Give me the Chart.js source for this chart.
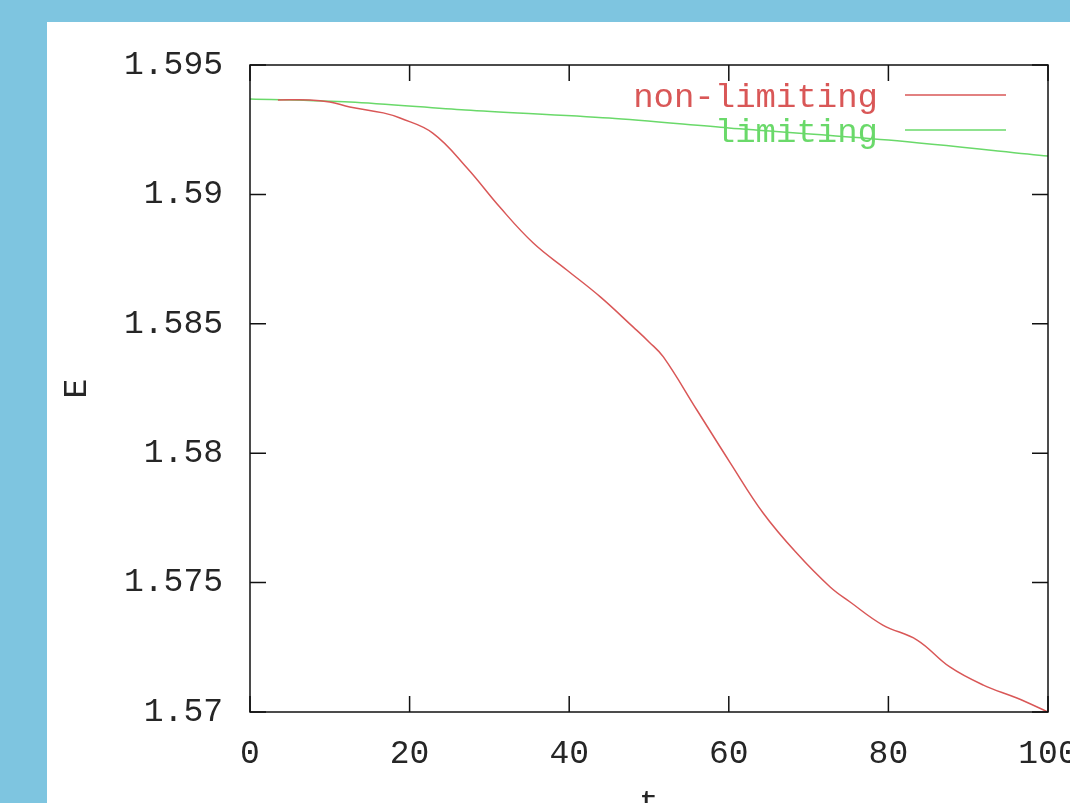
<!DOCTYPE html>
<html><head><meta charset="utf-8">
<script src="https://cdn.jsdelivr.net/npm/chart.js@4"></script>
<style>
html,body{margin:0;padding:0;background:#7ec5e0;width:1070px;height:803px;overflow:hidden;}
#panel{position:absolute;left:47px;top:22px;width:1023px;height:781px;background:#fff;overflow:hidden;}
canvas{position:absolute;left:0;top:0;}
</style></head><body>
<div id="panel"><canvas id="c" width="1023" height="802"></canvas></div>
<script>
// ---- data ----
const seriesNames = ['non-limiting', 'limiting'];
const tNonLimiting = [3.5, 7.5, 10, 12.5, 16.7, 18.8, 22.9, 27.2, 31.3, 35.5, 39.7, 43.9, 48, 50, 51.8, 56, 60.2, 64.3, 68.5, 72.7, 75.2, 79.3, 83.6, 87.7, 91.9, 96.1, 100];
const eNonLimiting = [1.59365, 1.59365, 1.59357, 1.59338, 1.59315, 1.59295, 1.59237, 1.59102, 1.58951, 1.58812, 1.58708, 1.58604, 1.58488, 1.5843, 1.58372, 1.58167, 1.57962, 1.57769, 1.57614, 1.57483, 1.57425, 1.57336, 1.57278, 1.57174, 1.57104, 1.57054, 1.57];
const tLimiting = [0, 12.5, 27, 45, 60, 80, 100];
const eLimiting = [1.59369, 1.59357, 1.59326, 1.59295, 1.59257, 1.5921, 1.59148];
const xTickLabels = ['0', '20', '40', '60', '80', '100'];
const yTickLabels = ['1.57', '1.575', '1.58', '1.585', '1.59', '1.595'];
const xTitle = 't';
const yTitle = 'E';

const RED = '#d95757';
const GREEN = '#6ad96a';
const TEXT = '#262626';
const FAMILY = "'Liberation Mono', 'DejaVu Sans Mono', monospace";
const FONT = {family: FAMILY, size: 33, weight: 'normal'};
const TL = 16;

const frame = {
  id: 'frame',
  beforeDatasetsDraw(chart) {
    const ctx = chart.ctx;
    ctx.save();
    ctx.font = '34px ' + FAMILY;
    ctx.textAlign = 'right';
    ctx.textBaseline = 'middle';
    ctx.lineWidth = 1.5;
    chart.data.datasets.forEach((ds, i) => {
      const yy = 73 + i * 35;
      ctx.fillStyle = ds.borderColor;
      ctx.fillText(ds.label, 831, yy + 3);
      ctx.strokeStyle = ds.borderColor;
      ctx.beginPath();
      ctx.moveTo(858, yy); ctx.lineTo(959, yy);
      ctx.stroke();
    });
    ctx.restore();
  },
  afterDatasetsDraw(chart) {
    const {ctx, chartArea: a, scales: {x, y}} = chart;
    ctx.save();
    ctx.strokeStyle = '#111';
    ctx.lineWidth = 1.5;
    ctx.strokeRect(a.left, a.top, a.right - a.left, a.bottom - a.top);
    ctx.beginPath();
    x.ticks.forEach(t => {
      const px = x.getPixelForValue(t.value);
      ctx.moveTo(px, a.bottom); ctx.lineTo(px, a.bottom - TL);
      ctx.moveTo(px, a.top); ctx.lineTo(px, a.top + TL);
    });
    y.ticks.forEach(t => {
      const py = y.getPixelForValue(t.value);
      ctx.moveTo(a.left, py); ctx.lineTo(a.left + TL, py);
      ctx.moveTo(a.right, py); ctx.lineTo(a.right - TL, py);
    });
    ctx.stroke();
    ctx.restore();
  }
};

new Chart(document.getElementById('c'), {
  type: 'line',
  data: {
    datasets: [
      {label: seriesNames[0], data: tNonLimiting.map((t, i) => ({x: t, y: eNonLimiting[i]})),
       borderColor: RED, borderWidth: 1.5, pointRadius: 0, tension: 0.4, fill: false},
      {label: seriesNames[1], data: tLimiting.map((t, i) => ({x: t, y: eLimiting[i]})),
       borderColor: GREEN, borderWidth: 1.5, pointRadius: 0, tension: 0.3, fill: false}
    ]
  },
  options: {
    responsive: false, animation: false, events: [],
    layout: {padding: {top: 43, right: 22, left: 0, bottom: 0}},
    plugins: {legend: {display: false}, tooltip: {enabled: false}},
    scales: {
      x: {
        type: 'linear', min: 0, max: 100,
        grid: {display: false, drawTicks: false}, border: {display: false},
        ticks: {stepSize: 20, padding: 22, color: TEXT, font: FONT, maxRotation: 0, autoSkip: false,
                callback: (v, i) => xTickLabels[i]},
        title: {display: true, text: xTitle, color: TEXT, font: FONT, padding: {top: 0, bottom: 0}},
        afterFit(s) { s.height = 112; s.paddingLeft = 0; s.paddingRight = 0; }
      },
      y: {
        type: 'linear', min: 1.57, max: 1.595,
        grid: {display: false, drawTicks: false}, border: {display: false},
        ticks: {stepSize: 0.005, padding: 27, color: TEXT, font: FONT, autoSkip: false,
                callback: (v, i) => yTickLabels[i]},
        title: {display: true, text: yTitle, color: TEXT, font: FONT, padding: {top: 10, bottom: 0}},
        afterFit(s) { s.width = 203; s.paddingTop = 0; s.paddingBottom = 0; }
      }
    }
  },
  plugins: [frame]
});
</script>
</body></html>
